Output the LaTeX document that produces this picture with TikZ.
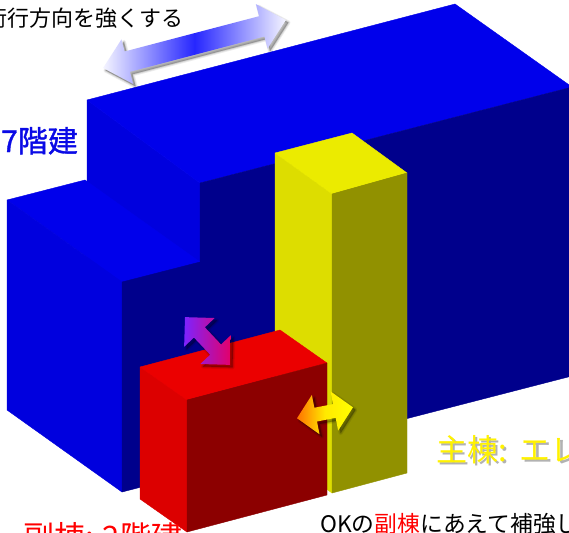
\documentclass[tikz,border=0pt]{standalone}
\usepackage{fontspec}
\setmainfont{Noto Sans CJK JP}
\newfontfamily\heavyjp[FakeBold=1.2]{Noto Sans CJK JP}

% face colours of the three blocks
\definecolor{bluetop}{RGB}{0,0,235}
\definecolor{blueside}{RGB}{0,0,222}
\definecolor{bluefront}{RGB}{0,0,140}
\definecolor{yeltop}{RGB}{235,235,0}
\definecolor{yelside}{RGB}{221,221,0}
\definecolor{yelfront}{RGB}{145,145,0}
\definecolor{redtop}{RGB}{235,0,0}
\definecolor{redside}{RGB}{220,0,0}
\definecolor{redfront}{RGB}{140,0,0}
\definecolor{captionblue}{RGB}{10,10,230}
\definecolor{arrowviolet}{RGB}{125,35,255}
\definecolor{arrowrose}{RGB}{228,0,105}
\definecolor{arroworange}{RGB}{255,115,0}

% yellow lettering with a grey drop shadow underneath
\newcommand{\shadowtext}[1]{%
  \makebox[0pt][l]{\hspace{2.5pt}\raisebox{-2.5pt}{\textcolor{black!30}{#1}}}%
  \textcolor{yellow}{#1}}

% double-headed block arrow with a soft shadow
% #1,#2 centre, #3 angle, #4 half length, #5 head length,
% #6 head half width, #7 shaft half width, #8 fill options
\newcommand{\dblarrow}[8]{%
  \begin{scope}[shift={(#1+2.5,#2+2.5)},rotate=#3]
    \foreach \lw/\op in {4/0.08,2/0.10,0.1/0.12}{
      \filldraw[black,opacity=\op,line width=\lw,line join=round]
        (-#4,0) -- ({-#4+#5},{#6}) -- ({-#4+#5},{#7}) -- ({#4-#5},{#7})
        -- ({#4-#5},{#6}) -- (#4,0) -- ({#4-#5},{-#6}) -- ({#4-#5},{-#7})
        -- ({-#4+#5},{-#7}) -- ({-#4+#5},{-#6}) -- cycle;}
  \end{scope}
  \begin{scope}[shift={(#1,#2)},rotate=#3]
    \path[#8]
      (-#4,0) -- ({-#4+#5},{#6}) -- ({-#4+#5},{#7}) -- ({#4-#5},{#7})
      -- ({#4-#5},{#6}) -- (#4,0) -- ({#4-#5},{-#6}) -- ({#4-#5},{-#7})
      -- ({-#4+#5},{-#7}) -- ({-#4+#5},{-#6}) -- cycle;
  \end{scope}}

\begin{document}
\begin{tikzpicture}[x=1pt,y=-1pt,
  face/.style={fill=#1,draw=#1,line width=0.4pt,line join=round},
  caption/.style={anchor=base west,inner sep=0pt}]

\useasboundingbox (0,0) rectangle (569,532);
\fill[white] (0,0) rectangle (569,532);

% main building, seven storeys
\filldraw[face=blueside]  (87,100) -- (200,183) -- (200,472) -- (87,389) -- cycle;
\filldraw[face=bluetop]   (87,100) -- (455,4) -- (572,87) -- (200,183) -- cycle;
\filldraw[face=bluefront] (200,183) -- (572,87) -- (572,376) -- (200,472) -- cycle;

% lower wing on the left
\filldraw[face=bluetop]   (7,200) -- (85,180) -- (200,262) -- (122,282) -- cycle;
\filldraw[face=blueside]  (7,200) -- (122,282) -- (122,492) -- (7,410) -- cycle;
\filldraw[face=bluefront] (122,282) -- (200,262) -- (200,472) -- (122,492) -- cycle;

% lift tower
\filldraw[face=yelside]  (275,153) -- (332,194) -- (332,493) -- (275,452) -- cycle;
\filldraw[face=yeltop]   (275,153) -- (352,133) -- (407,173) -- (332,194) -- cycle;
\filldraw[face=yelfront] (332,194) -- (407,173) -- (407,473) -- (332,493) -- cycle;

% annex, two storeys
\filldraw[face=redside]  (140,367) -- (187,400) -- (187,532) -- (140,499) -- cycle;
\filldraw[face=redtop]   (140,367) -- (280,330) -- (327,363) -- (187,400) -- cycle;
\filldraw[face=redfront] (187,400) -- (327,363) -- (327,495) -- (187,532) -- cycle;

% arrows
\dblarrow{194.5}{44}{14.7}{94.5}{25}{23}{10.5}
  {left color=blue!4!white,right color=blue!4!white,middle color=blue!85!white}
\dblarrow{207.5}{341}{-46.7}{32.8}{21}{21}{7.5}
  {left color=arrowviolet,right color=arrowrose}
\dblarrow{325}{412.8}{11}{28.5}{19}{20}{7}
  {left color=arroworange,right color=yellow,middle color=yellow!85!arroworange}

% captions
\node[caption,font=\fontsize{22}{26}\selectfont] (dirnote) at (-15,26.4)
  {桁行方向を強くする};
\node[caption,font=\heavyjp\fontsize{30}{34}\selectfont,text=captionblue] (mainfloors)
  at (1,152) {7階建};
\node[caption,font=\fontsize{31}{35}\selectfont] (maincap)
  at (436,461) {\shadowtext{主棟:\hspace{13pt}エレ}};
\node[caption,font=\fontsize{31}{35}\selectfont,text=red] (annexcap)
  at (23,548) {副棟:\hspace{9pt}2階建};
\node[caption,font=\fontsize{22.8}{27}\selectfont] (note) at (320,532)
  {OKの\textcolor{red}{副棟}にあえて補強し};
\end{tikzpicture}
\end{document}
